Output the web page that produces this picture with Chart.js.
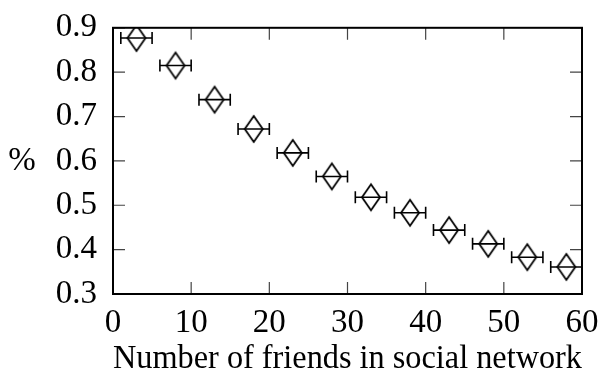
<!DOCTYPE html>
<html>
<head>
<meta charset="utf-8">
<script src="https://cdn.jsdelivr.net/npm/chart.js@4"></script>
<style>
  html, body { margin: 0; padding: 0; background: #fff; }
</style>
</head>
<body>
<canvas id="chart" width="604" height="373"></canvas>
<script>
// Values
const friends = [3, 8, 13, 18, 23, 28, 33, 38, 43, 48, 53, 58];
const friendsErr = [2, 2, 2, 2, 2, 2, 2, 2, 2, 2, 2, 2];
const share = [0.877, 0.815, 0.738, 0.672, 0.618, 0.565, 0.518, 0.483, 0.444, 0.413, 0.383, 0.361];
const xTicks = [0, 10, 20, 30, 40, 50, 60];
const yTicks = [0.3, 0.4, 0.5, 0.6, 0.7, 0.8, 0.9];

const FONT = "'Liberation Serif', 'DejaVu Serif', serif";
const SIZE = 33;

// Tall open diamond used as the point marker
function makeDiamond() {
  const c = document.createElement("canvas");
  c.width = 22;
  c.height = 32;
  const g = c.getContext("2d");
  g.strokeStyle = "#000";
  g.lineWidth = 1.8;
  g.lineJoin = "miter";
  g.beginPath();
  g.moveTo(11, 3);
  g.lineTo(20, 16);
  g.lineTo(11, 29);
  g.lineTo(2, 16);
  g.closePath();
  g.stroke();
  return c;
}

// Horizontal error bars, drawn before the points
const errorBars = {
  id: "errorBars",
  beforeDatasetsDraw(chart) {
    const { ctx, scales } = chart;
    const x = scales.x, y = scales.y;
    ctx.save();
    ctx.strokeStyle = "#000";
    ctx.lineWidth = 1.6;
    friends.forEach((f, i) => {
      const py = y.getPixelForValue(share[i]);
      const x0 = x.getPixelForValue(f - friendsErr[i]);
      const x1 = x.getPixelForValue(f + friendsErr[i]);
      ctx.beginPath();
      ctx.moveTo(x0, py);
      ctx.lineTo(x1, py);
      ctx.moveTo(x0, py - 6);
      ctx.lineTo(x0, py + 6);
      ctx.moveTo(x1, py - 6);
      ctx.lineTo(x1, py + 6);
      ctx.stroke();
    });
    ctx.restore();
  }
};

// Box frame with inward ticks on all four sides, plus the "%" label
const frame = {
  id: "frame",
  afterDraw(chart) {
    const { ctx, chartArea: a, scales } = chart;
    ctx.save();
    ctx.strokeStyle = "#444";
    ctx.lineWidth = 1.2;
    ctx.beginPath();
    xTicks.forEach(v => {
      const px = scales.x.getPixelForValue(v);
      ctx.moveTo(px, a.bottom);
      ctx.lineTo(px, a.bottom - 12);
      ctx.moveTo(px, a.top);
      ctx.lineTo(px, a.top + 12);
    });
    yTicks.forEach(v => {
      const py = scales.y.getPixelForValue(v);
      ctx.moveTo(a.left, py);
      ctx.lineTo(a.left + 12, py);
      ctx.moveTo(a.right, py);
      ctx.lineTo(a.right - 12, py);
    });
    ctx.stroke();
    ctx.strokeStyle = "#000";
    ctx.lineWidth = 2;
    ctx.strokeRect(a.left, a.top, a.right - a.left, a.bottom - a.top);

    ctx.fillStyle = "#000";
    ctx.font = SIZE + "px " + FONT;
    ctx.textAlign = "center";
    ctx.textBaseline = "middle";
    ctx.fillText("%", 22, (a.top + a.bottom) / 2);
    ctx.restore();
  }
};

const ctx = document.querySelector("#chart").getContext("2d");
new Chart(ctx, {
  type: "scatter",
  data: {
    datasets: [
      {
        data: friends.map((f, i) => ({ x: f, y: share[i] })),
        pointStyle: makeDiamond(),
        pointRadius: 10,
        pointHoverRadius: 10
      }
    ]
  },
  options: {
    responsive: false,
    animation: false,
    devicePixelRatio: 1,
    layout: { padding: { top: 24, right: 22, left: 0, bottom: 0 } },
    plugins: {
      legend: { display: false },
      tooltip: { enabled: false }
    },
    scales: {
      x: {
        type: "linear",
        min: 0,
        max: 60,
        afterFit: s => { s.height = 79; },
        afterBuildTicks: s => { s.ticks = xTicks.map(v => ({ value: v })); },
        grid: { display: false },
        border: { display: false },
        ticks: {
          color: "#000",
          padding: 2,
          maxRotation: 0,
          font: { family: FONT, size: SIZE }
        },
        title: {
          display: true,
          text: "Number of friends in social network",
          color: "#000",
          padding: { top: 0, bottom: -3 },
          font: { family: FONT, size: SIZE, lineHeight: 1 }
        }
      },
      y: {
        type: "linear",
        min: 0.3,
        max: 0.9,
        afterFit: s => { s.width = 113; },
        afterBuildTicks: s => { s.ticks = yTicks.map(v => ({ value: v })); },
        grid: { display: false },
        border: { display: false },
        ticks: {
          color: "#000",
          padding: 8,
          callback: v => v.toFixed(1),
          font: { family: FONT, size: SIZE }
        }
      }
    }
  },
  plugins: [errorBars, frame]
});
</script>
</body>
</html>
